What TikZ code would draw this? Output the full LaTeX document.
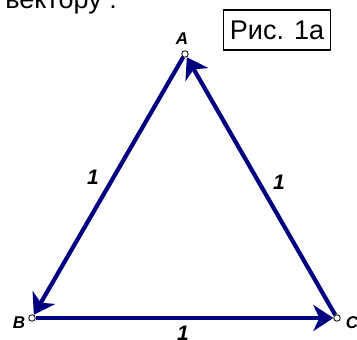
\documentclass[tikz,border=0pt]{standalone}
\usepackage{fontspec}
\setmainfont{Liberation Sans}
\usetikzlibrary{arrows.meta}
\definecolor{vecc}{RGB}{0,0,128}
\pgfdeclarelayer{bg}
\pgfsetlayers{bg,main}
\begin{document}
\begin{tikzpicture}[x=1pt,y=-1pt,
  vecline/.style={draw=vecc, line width=4.2pt, -{Stealth[length=20pt,width=26pt,inset=6pt]}},
  vpt/.style={circle, draw=black, fill=white, inner sep=0pt, minimum size=6.5pt, line width=0.8pt},
  vlab/.style={font=\fontsize{17}{17}\selectfont\bfseries\itshape, inner sep=0pt},
  numlab/.style={font=\fontsize{21}{21}\selectfont\bfseries\itshape, inner sep=0pt},
  figbox/.style={draw=black, line width=1.6pt, font=\fontsize{27}{27}\selectfont, minimum width=107pt, minimum height=40pt, inner sep=0pt}]
\useasboundingbox (0,0) rectangle (357,340);
\clip (0,0) rectangle (357,340);
\node[anchor=base east, font=\fontsize{27}{27}\selectfont, inner sep=0pt] (top) at (117,9) {вектору :};
\node[figbox] (fig) at (277,30) {Рис. 1a};
\node[vpt] (A) at (185,54) {};
\node[vpt] (B) at (32,318) {};
\node[vpt] (C) at (337,318) {};
\begin{pgfonlayer}{bg}
\draw[vecline] (A) -- (B);
\draw[vecline] (B) -- (C);
\draw[vecline] (C) -- (A);
\end{pgfonlayer}
\node[vlab] (la) at (182,39) {A};
\node[vlab] (lb) at (19,323) {B};
\node[vlab] (lc) at (352,323) {C};
\node[numlab] (n1) at (93,177) {1};
\node[numlab] (n2) at (279,182) {1};
\node[numlab] (n3) at (183,333) {1};
\end{tikzpicture}
\end{document}
